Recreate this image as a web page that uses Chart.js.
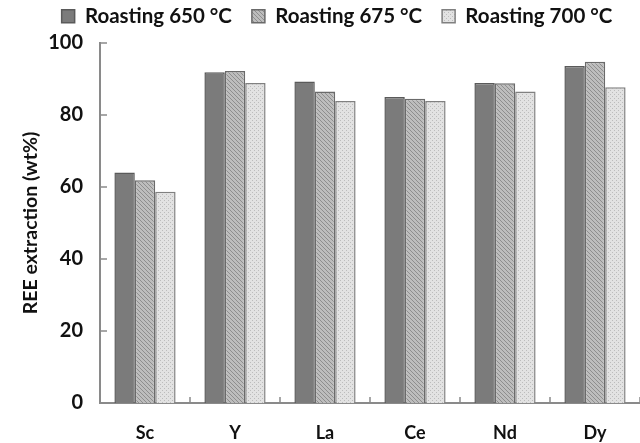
<!DOCTYPE html>
<html>
<head>
<meta charset="utf-8">
<script src="https://cdn.jsdelivr.net/npm/chart.js@4.4.0/dist/chart.umd.min.js"></script>
<style>
  html, body { margin: 0; padding: 0; background: #fff; }
  #wrap { width: 640px; height: 443px; position: relative; }
</style>
</head>
<body>
<div id="wrap"><canvas id="chart"></canvas></div>
<script>
const elements = ['Sc', 'Y', 'La', 'Ce', 'Nd', 'Dy'];
const seriesNames = ['Roasting 650 °C', 'Roasting 675 °C', 'Roasting 700 °C'];
const roast650 = [64.0, 91.9, 89.3, 85.0, 88.9, 93.6];
const roast675 = [61.9, 92.2, 86.5, 84.5, 88.8, 94.8];
const roast700 = [58.7, 88.9, 83.9, 83.9, 86.5, 87.7];
const yTicks = [0, 20, 40, 60, 80, 100];

function makePattern(bg, fg, kind) {
  const c = document.createElement('canvas');
  c.width = 4; c.height = 4;
  const g = c.getContext('2d');
  g.fillStyle = bg;
  g.fillRect(0, 0, 4, 4);
  g.fillStyle = fg;
  if (kind === 'diag') {
    for (let i = 0; i < 4; i++) g.fillRect(i, i, 1, 1);
  } else {
    g.fillRect(0, 0, 1, 1);
    g.fillRect(2, 2, 1, 1);
  }
  return g.createPattern(c, 'repeat');
}

const hatch = makePattern('#bdbdbd', '#8e8e8e', 'diag');
const dots = makePattern('#e2e2e2', '#bcbcbc', 'dots');

// small tick marks that point into the plot
const innerTicks = {
  id: 'innerTicks',
  afterDatasetsDraw(chart) {
    const ctx = chart.ctx;
    const x = chart.scales.x, y = chart.scales.y;
    ctx.save();
    ctx.strokeStyle = '#8a8a8a';
    ctx.lineWidth = 1.5;
    y.ticks.forEach((t, i) => {
      const py = y.getPixelForTick(i);
      ctx.beginPath();
      ctx.moveTo(y.right, py);
      ctx.lineTo(y.right + 7, py);
      ctx.stroke();
    });
    for (let i = 1; i <= elements.length; i++) {
      const px = x.getPixelForValue(i - 0.5);
      ctx.beginPath();
      ctx.moveTo(px, x.top);
      ctx.lineTo(px, x.top - 6);
      ctx.stroke();
    }
    ctx.restore();
  }
};

// legend sits high, plot starts right under it
const legendHeight = {
  id: 'legendHeight',
  beforeInit(chart) {
    const fit = chart.legend.fit;
    chart.legend.fit = function() {
      fit.call(this);
      this.height = 57;
    };
  }
};

const ctx = document.getElementById('chart').getContext('2d');
new Chart(ctx, {
  type: 'bar',
  data: {
    labels: elements,
    datasets: [{
      label: seriesNames[0],
      data: roast650,
      backgroundColor: '#7b7b7b',
      borderColor: '#5a5a5a',
      borderWidth: 1.5
    }, {
      label: seriesNames[1],
      data: roast675,
      backgroundColor: hatch,
      borderColor: '#6a6a6a',
      borderWidth: 1.5
    }, {
      label: seriesNames[2],
      data: roast700,
      backgroundColor: dots,
      borderColor: '#808080',
      borderWidth: 1.5
    }]
  },
  options: {
    responsive: true,
    maintainAspectRatio: false,
    animation: false,
    layout: { padding: { left: 34, right: 0, top: -14, bottom: 0 } },
    datasets: { bar: { categoryPercentage: 0.68, barPercentage: 1 } },
    plugins: {
      legend: {
        labels: {
          boxWidth: 13,
          boxHeight: 13,
          padding: 20,
          color: '#111',
          font: { family: 'Lato', size: 20.5, weight: 'bold' }
        }
      },
      tooltip: { enabled: false }
    },
    scales: {
      x: {
        grid: { display: false, drawTicks: false },
        border: { color: '#8a8a8a', width: 2 },
        ticks: {
          padding: 19,
          color: '#111',
          font: { family: 'Lato', size: 18, weight: 'bold' }
        },
        afterFit(scale) { scale.height = 40; }
      },
      y: {
        min: 0,
        max: 100,
        afterBuildTicks(scale) { scale.ticks = yTicks.map(v => ({ value: v })); },
        grid: { display: false, drawTicks: false },
        border: { color: '#8a8a8a', width: 2 },
        ticks: {
          padding: 17,
          color: '#111',
          font: { family: 'Lato', size: 20, weight: 'bold' }
        },
        title: {
          display: true,
          text: 'REE extraction (wt%)',
          color: '#111',
          padding: { top: -15, bottom: 0 },
          font: { family: 'Lato', size: 19.5, weight: 'bold' }
        },
        afterFit(scale) { scale.width = 66; }
      }
    }
  },
  plugins: [innerTicks, legendHeight]
});
</script>
</body>
</html>
